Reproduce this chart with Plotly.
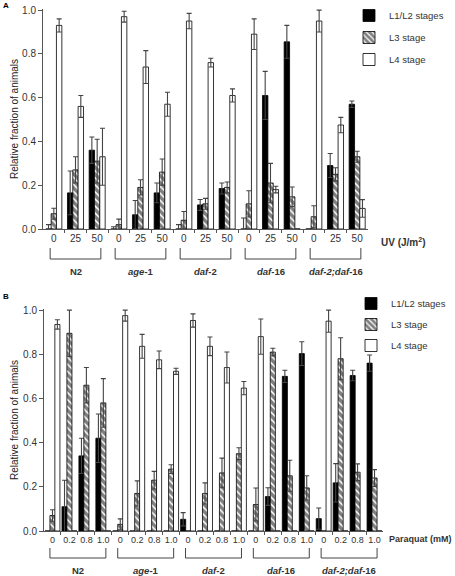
import plotly.graph_objects as go

# ---------------- data ----------------
strains = ["<b>N2</b>", "<b><i>age</i>-1</b>", "<b><i>daf</i>-2</b>", "<b><i>daf</i>-16</b>",
           "<b><i>daf-2;daf</i>-16</b>"]
stages = ["L1/L2 stages", "L3 stage", "L4 stage"]

uv_doses = ["0", "25", "50"]
A_L12 = [0.0, 0.165, 0.36, 0.0, 0.065, 0.165, 0.0, 0.11, 0.185, 0.0, 0.61, 0.855, 0.0, 0.29, 0.57]
A_L12_err = [0.02, 0.10, 0.06, 0.01, 0.065, 0.045, 0.02, 0.025, 0.025, 0.05, 0.11, 0.075, 0.0, 0.055, 0.015]
A_L3 = [0.07, 0.27, 0.31, 0.02, 0.19, 0.26, 0.04, 0.115, 0.19, 0.115, 0.21, 0.147, 0.056, 0.25, 0.33]
A_L3_err = [0.025, 0.06, 0.10, 0.025, 0.035, 0.06, 0.04, 0.025, 0.025, 0.06, 0.09, 0.045, 0.05, 0.03, 0.025]
A_L4 = [0.93, 0.56, 0.33, 0.97, 0.74, 0.57, 0.95, 0.76, 0.61, 0.89, 0.18, 0.0, 0.95, 0.475, 0.094]
A_L4_err = [0.03, 0.05, 0.13, 0.025, 0.075, 0.055, 0.035, 0.02, 0.03, 0.07, 0.015, 0.0, 0.05, 0.035, 0.04]

pq_doses = ["0", "0.2", "0.8", "1.0"]
B_L12 = [0.0, 0.11, 0.34, 0.42, 0.0, 0.0, 0.0, 0.0, 0.053, 0.0, 0.0, 0.0,
         0.0, 0.156, 0.70, 0.803, 0.056, 0.218, 0.704, 0.76]
B_L12_err = [0, 0.12, 0.08, 0.11, 0, 0, 0, 0, 0.03, 0, 0, 0,
             0, 0.04, 0.028, 0.054, 0.048, 0.087, 0.024, 0.037]
B_L3 = [0.07, 0.895, 0.66, 0.58, 0.03, 0.17, 0.23, 0.28, 0.0, 0.17, 0.263, 0.35,
        0.12, 0.81, 0.25, 0.195, 0.0, 0.78, 0.266, 0.24]
B_L3_err = [0.026, 0.105, 0.08, 0.11, 0.025, 0.057, 0.04, 0.02, 0, 0.048, 0.067, 0.027,
            0.075, 0.017, 0.07, 0.055, 0, 0.095, 0.038, 0.038]
B_L4 = [0.935, 0, 0, 0, 0.975, 0.836, 0.775, 0.723, 0.953, 0.836, 0.74, 0.647,
        0.88, 0, 0, 0, 0.95, 0, 0, 0]
B_L4_err = [0.021, 0, 0, 0, 0.025, 0.054, 0.04, 0.014, 0.03, 0.042, 0.07, 0.03,
            0.08, 0, 0, 0, 0.05, 0, 0, 0]

y_ticks = [0, 0.2, 0.4, 0.6, 0.8, 1.0]

# ---------------- styling ----------------
W, H = 455, 576
FONT = "Liberation Sans, Arial, sans-serif"
TXT = "#333333"
ERRC = "#444444"

def px_x(p):
    return p / W

def px_y(p):
    return 1 - p / H

fig = go.Figure()

def add_panel(vals, errs, xa, ya, legend, width, offsets, gname):
    n = len(vals[0])
    xs = list(range(n))
    styles = [
        dict(color="black", line=dict(color="black", width=0.8)),
        dict(color="white", line=dict(color="black", width=0.8),
             pattern=dict(shape="\\", fgcolor="black", bgcolor="white", size=5, solidity=0.7)),
        dict(color="white", line=dict(color="black", width=0.8)),
    ]
    for k in range(3):
        fig.add_trace(go.Bar(
            x=xs, y=vals[k], name=stages[k], xaxis=xa, yaxis=ya,
            width=width, offset=offsets[k], marker=styles[k],
            error_y=dict(type="data", array=errs[k], symmetric=True,
                         color=ERRC, thickness=1.1, width=2.5),
            legend=legend, legendgroup=f"{gname}{k}", showlegend=True,
        ))

add_panel([A_L12, A_L3, A_L4], [A_L12_err, A_L3_err, A_L4_err], "x", "y", "legend",
          0.25, [-0.37, -0.125, 0.12], "a")
add_panel([B_L12, B_L3, B_L4], [B_L12_err, B_L3_err, B_L4_err], "x2", "y2", "legend2",
          0.3, [-0.44, -0.15, 0.14], "b")

# domains (pixels -> paper)
A_left, A_right, A_top, A_bot = 43, 368, 9, 229
B_left, B_right, B_top, B_bot = 44, 383, 309, 531

nA = len(A_L12)
nB = len(B_L12)

axis_common = dict(showline=True, linecolor="#555555", linewidth=1, zeroline=False,
                   showgrid=False)

fig.update_layout(
    width=W, height=H, margin=dict(l=0, r=0, t=0, b=0, autoexpand=False),
    paper_bgcolor="white", plot_bgcolor="white",
    font=dict(family=FONT, color=TXT, size=10),
    barmode="overlay",
    xaxis=dict(domain=[px_x(A_left), px_x(A_right)], anchor="y", range=[-0.5, nA - 0.5],
               tickvals=list(range(nA)), ticktext=uv_doses * len(strains), ticks="",
               tickfont=dict(family=FONT, size=10, color=TXT),
               minor=dict(tickvals=[i + 0.5 for i in range(nA - 1)], ticks="outside",
                          ticklen=3, tickcolor="#555555"),
               **axis_common),
    yaxis=dict(domain=[px_y(A_bot), px_y(A_top)], anchor="x", range=[0, 1.005],
               tickvals=y_ticks, tickformat=".1f", ticks="outside", ticklen=4,
               tickfont=dict(family=FONT, size=10, color=TXT),
               tickcolor="#555555", **axis_common),
    xaxis2=dict(domain=[px_x(B_left), px_x(B_right)], anchor="y2", range=[-0.5, nB - 0.5],
                tickvals=list(range(nB)), ticktext=pq_doses * len(strains), ticks="",
                tickfont=dict(family=FONT, size=9, color=TXT),
                minor=dict(tickvals=[i + 0.5 for i in range(nB - 1)], ticks="outside",
                           ticklen=3, tickcolor="#555555"),
                **axis_common),
    yaxis2=dict(domain=[px_y(B_bot), px_y(B_top)], anchor="x2", range=[0, 1.005],
                tickvals=y_ticks, tickformat=".1f", ticks="outside", ticklen=4,
                tickfont=dict(family=FONT, size=10, color=TXT),
                tickcolor="#555555", **axis_common),
    legend=dict(x=px_x(349), y=px_y(1), xanchor="left", yanchor="top",
                font=dict(family=FONT, size=9.5, color=TXT), bgcolor="rgba(0,0,0,0)",
                tracegroupgap=3, traceorder="grouped", itemclick=False),
    legend2=dict(x=px_x(351), y=px_y(289), xanchor="left", yanchor="top",
                 font=dict(family=FONT, size=9.5, color=TXT), bgcolor="rgba(0,0,0,0)",
                 tracegroupgap=2, traceorder="grouped", itemclick=False),
)

shapes = []
annotations = []

def brackets(xref, n_doses, y_h, y_top, y_lab, pad):
    for i, s in enumerate(strains):
        x0 = i * n_doses - pad
        x1 = i * n_doses + n_doses - 1 + pad
        line = dict(color="#444444", width=1)
        shapes.append(dict(type="line", xref=xref, yref="paper", x0=x0, x1=x1,
                           y0=px_y(y_h), y1=px_y(y_h), line=line))
        for xx in (x0, x1):
            shapes.append(dict(type="line", xref=xref, yref="paper", x0=xx, x1=xx,
                               y0=px_y(y_h), y1=px_y(y_top), line=line))
        annotations.append(dict(text=s, xref=xref, yref="paper", x=(x0 + x1) / 2,
                                y=px_y(y_lab), showarrow=False, xanchor="center",
                                yanchor="middle", font=dict(family=FONT, size=9.5, color=TXT)))

brackets("x", 3, 259, 248, 271, 0.17)
brackets("x2", 4, 558, 548, 570, 0.15)

annotations += [
    dict(text="<b>A</b>", xref="paper", yref="paper", x=px_x(1), y=px_y(5), showarrow=False,
         xanchor="left", yanchor="middle", font=dict(family=FONT, size=8, color="black")),
    dict(text="<b>B</b>", xref="paper", yref="paper", x=px_x(1), y=px_y(296), showarrow=False,
         xanchor="left", yanchor="middle", font=dict(family=FONT, size=8, color="black")),
    dict(text="Relative fraction of animals", xref="paper", yref="paper", x=px_x(14),
         y=px_y((A_top + A_bot) / 2), textangle=-90, showarrow=False, xanchor="center",
         yanchor="middle", font=dict(family=FONT, size=10, color="#222222")),
    dict(text="Relative fraction of animals", xref="paper", yref="paper", x=px_x(14),
         y=px_y((B_top + B_bot) / 2), textangle=-90, showarrow=False, xanchor="center",
         yanchor="middle", font=dict(family=FONT, size=10, color="#222222")),
    dict(text="<b>UV (J/m<sup>2</sup>)</b>", xref="paper", yref="paper", x=px_x(379),
         y=px_y(242), showarrow=False, xanchor="left", yanchor="middle",
         font=dict(family=FONT, size=10, color=TXT)),
    dict(text="<b>Paraquat (mM)</b>", xref="paper", yref="paper", x=px_x(454),
         y=px_y(539), showarrow=False, xanchor="right", yanchor="middle",
         font=dict(family=FONT, size=9, color=TXT)),
]

fig.update_layout(shapes=shapes, annotations=annotations)
fig.write_html("out.html", config={"displayModeBar": False},
               post_script="document.body.style.margin='0';document.body.style.overflow='hidden';")
